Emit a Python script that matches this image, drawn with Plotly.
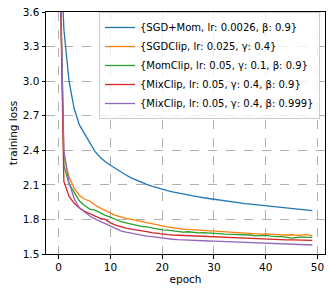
import plotly.graph_objects as go

epochs = list(range(50))

sgd_mom = [4.6, 3.45, 3.0, 2.76, 2.62, 2.54, 2.46, 2.39, 2.34, 2.30,
           2.27, 2.24, 2.21, 2.185, 2.16, 2.14, 2.12, 2.105, 2.09, 2.075,
           2.06, 2.050, 2.040, 2.030, 2.021, 2.012, 2.004, 1.996, 1.988, 1.981,
           1.974, 1.967, 1.960, 1.954, 1.948, 1.942, 1.937, 1.932, 1.927, 1.922,
           1.917, 1.912, 1.907, 1.902, 1.898, 1.894, 1.889, 1.885, 1.881, 1.876]

sgd_clip = [4.6, 2.35, 2.17, 2.07, 2.01, 1.975, 1.96, 1.925, 1.90, 1.875,
            1.855, 1.835, 1.82, 1.81, 1.80, 1.79, 1.78, 1.775, 1.765, 1.75,
            1.74, 1.735, 1.728, 1.72, 1.715, 1.713, 1.71, 1.712, 1.706, 1.705,
            1.703, 1.697, 1.693, 1.69, 1.688, 1.688, 1.685, 1.68, 1.676, 1.673,
            1.675, 1.670, 1.668, 1.666, 1.665, 1.667, 1.661, 1.664, 1.668, 1.658]

mom_clip = [4.6, 2.27, 2.11, 2.03, 1.96, 1.92, 1.89, 1.88, 1.855, 1.835,
            1.82, 1.80, 1.78, 1.77, 1.76, 1.745, 1.74, 1.735, 1.725, 1.72,
            1.71, 1.708, 1.703, 1.70, 1.69, 1.693, 1.687, 1.684, 1.685, 1.68,
            1.677, 1.676, 1.672, 1.67, 1.674, 1.668, 1.664, 1.665, 1.658, 1.66,
            1.662, 1.655, 1.65, 1.652, 1.645, 1.638, 1.643, 1.648, 1.645, 1.644]

mix_clip_09 = [4.6, 2.13, 2.0, 1.94, 1.90, 1.87, 1.85, 1.83, 1.81, 1.80,
               1.77, 1.75, 1.735, 1.725, 1.715, 1.71, 1.70, 1.695, 1.685, 1.678,
               1.67, 1.668, 1.665, 1.663, 1.66, 1.66, 1.655, 1.653, 1.65, 1.651,
               1.648, 1.647, 1.645, 1.642, 1.64, 1.638, 1.633, 1.632, 1.628, 1.627,
               1.627, 1.626, 1.625, 1.623, 1.622, 1.622, 1.621, 1.62, 1.62, 1.619]

mix_clip_0999 = [4.6, 2.40, 2.12, 1.98, 1.90, 1.862, 1.83, 1.805, 1.783, 1.765,
                 1.738, 1.715, 1.70, 1.69, 1.68, 1.672, 1.664, 1.656, 1.65, 1.643,
                 1.636, 1.632, 1.628, 1.625, 1.622, 1.62, 1.618, 1.616, 1.614, 1.613,
                 1.611, 1.609, 1.607, 1.605, 1.603, 1.601, 1.6, 1.598, 1.595, 1.593,
                 1.591, 1.589, 1.588, 1.586, 1.585, 1.583, 1.582, 1.581, 1.58, 1.578]

names = ["{SGD+Mom, lr: 0.0026, β: 0.9}",
         "{SGDClip, lr: 0.025, γ: 0.4}",
         "{MomClip, lr: 0.05, γ: 0.1, β: 0.9}",
         "{MixClip, lr: 0.05, γ: 0.4, β: 0.9}",
         "{MixClip, lr: 0.05, γ: 0.4, β: 0.999}"]
series = [sgd_mom, sgd_clip, mom_clip, mix_clip_09, mix_clip_0999]
colors = ["#1f77b4", "#ff7f0e", "#2ca02c", "#d62728", "#9467bd"]

y_ticks = [1.5, 1.8, 2.1, 2.4, 2.7, 3.0, 3.3, 3.6]
x_ticks = [0, 10, 20, 30, 40, 50]

fig = go.Figure()
for n, s, c in zip(names, series, colors):
    fig.add_trace(go.Scatter(x=epochs, y=s, mode="lines", name=n,
                             line=dict(color=c, width=1.3)))

font = "DejaVu Sans"
axis_common = dict(showline=True, mirror=True, linecolor="black", linewidth=1,
                   ticks="outside", ticklen=3.5, tickcolor="black", tickwidth=0.8,
                   showgrid=True, gridcolor="#b0b0b0", griddash="dash", gridwidth=0.8,
                   zeroline=False, automargin=False,
                   tickfont=dict(family=font, size=10.5, color="black"))

fig.update_layout(
    width=333, height=294,
    margin=dict(l=46, r=8, t=12, b=40, autoexpand=False),
    plot_bgcolor="white", paper_bgcolor="white",
    font=dict(family=font, size=10, color="black"),
    xaxis=dict(range=[-2.45, 51.45], tickvals=x_ticks,
               title=dict(text="epoch", font=dict(family=font, size=10.5), standoff=3),
               **axis_common),
    yaxis=dict(range=[1.5, 3.6], tickvals=y_ticks,
               ticktext=[f"{v:.1f}" for v in y_ticks],
               title=dict(text="training loss", font=dict(family=font, size=10.5), standoff=3),
               **axis_common),
    legend=dict(x=0.19, y=1.0, xanchor="left", yanchor="top",
                bgcolor="rgba(255,255,255,0.8)", bordercolor="#cccccc", borderwidth=1,
                font=dict(family=font, size=10), itemwidth=30,
                tracegroupgap=0),
    showlegend=True,
)

fig.write_html("out.html",
               config={"displayModeBar": False},
               post_script="document.body.style.margin='0';document.body.style.overflow='hidden';")
